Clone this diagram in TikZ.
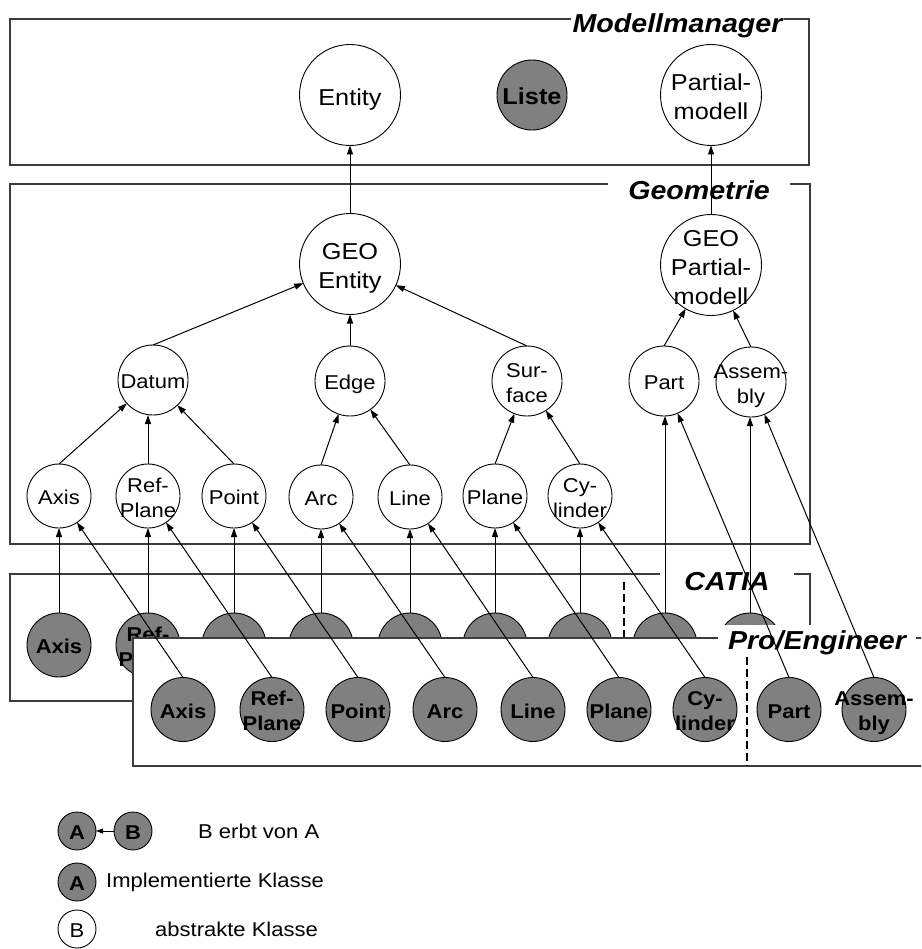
\documentclass[tikz,border=0pt]{standalone}
\usepackage{fontspec}
\setmainfont{Liberation Sans}[FakeStretch=1.1]
\usetikzlibrary{arrows.meta}
\definecolor{nodegray}{RGB}{128,128,128}
\definecolor{boxgray}{RGB}{60,60,60}
\newcommand\ctext[1]{\makebox[0pt]{\smash{\raisebox{-0.5\height}{\begin{tabular}[b]{@{}c@{}}#1\end{tabular}}}}}
\newcommand\fbig{\fontsize{23}{29}\selectfont}
\newcommand\fsm{\fontsize{20}{25}\selectfont}
\newcommand\fsmb{\fontsize{20}{25}\selectfont\bfseries}
\newcommand\fliste{\fontsize{23}{27}\selectfont\bfseries}
\newcommand\flegb{\fontsize{20}{24}\selectfont\bfseries}
\newcommand\fleg{\fontsize{20}{24}\selectfont}
\newcommand\ftitle{\fontsize{26}{30}\selectfont\bfseries\itshape}
\tikzset{
  basecirc/.style={circle, draw=black, line width=0.9pt, inner sep=0pt, outer sep=0pt},
  abst/.style={basecirc, fill=white, font=\fsm},
  impl/.style={basecirc, fill=nodegray, font=\fsmb},
  bigc/.style={minimum size=101pt, font=\fbig},
  midc/.style={minimum size=70pt},
  smlc/.style={minimum size=64pt},
  legc/.style={minimum size=38pt},
  arr/.style={-{Triangle[length=9pt,width=6pt]}, line width=1pt},
  frame/.style={draw=boxgray, line width=1.6pt},
  boxtitle/.style={fill=white, anchor=base, inner ysep=3pt, font=\ftitle},
  dashline/.style={line width=2pt, dash pattern=on 8pt off 4pt},
  legtext/.style={anchor=base west, inner sep=0pt, font=\fsm}
}
\begin{document}
\begin{tikzpicture}[x=1pt,y=-1pt]
\useasboundingbox (0,0) rectangle (921,949);
\clip (0,0) rectangle (921,949);

% frames and titles
\draw[frame] (10,19) rectangle (809,165);
\node[boxtitle, inner xsep=2pt] (tMM) at (677.5,33) {Modellmanager};
\draw[frame] (10,184) rectangle (810,544);
\node[boxtitle, inner xsep=20pt] (tGeo) at (699,200) {Geometrie};
\draw[frame, fill=white] (10,574) rectangle (810,701);
\node[boxtitle, inner xsep=24pt] (tCat) at (727,590) {CATIA};

% Modellmanager nodes
\node[abst, bigc] (mEnt) at (350,95) {\ctext{Entity}};
\node[impl, midc, font=\fliste] (mList) at (532,95) {\ctext{Liste}};
\node[abst, bigc] (mPart) at (711,95) {\ctext{Partial-\\modell}};

% Geometrie nodes
\node[abst, bigc] (gGeoE) at (350,264) {\ctext{GEO\\Entity}};
\node[abst, bigc] (gGeoP) at (711,265) {\ctext{GEO\\Partial-\\modell}};
\node[abst, midc] (gDatum) at (153,380) {\ctext{Datum}};
\node[abst, midc] (gEdge) at (350,381) {\ctext{Edge}};
\node[abst, midc] (gSurf) at (527,381) {\ctext{Sur-\\face}};
\node[abst, midc] (gPart) at (664,381) {\ctext{Part}};
\node[abst, midc] (gAsm) at (751,382) {\ctext{Assem-\\bly}};
\node[abst, smlc] (gAxis) at (59,496) {\ctext{Axis}};
\node[abst, smlc] (gRef) at (148,496) {\ctext{Ref-\\Plane}};
\node[abst, smlc] (gPoint) at (234,496) {\ctext{Point}};
\node[abst, smlc] (gArc) at (321,497) {\ctext{Arc}};
\node[abst, smlc] (gLine) at (410,497) {\ctext{Line}};
\node[abst, smlc] (gPlane) at (495,496) {\ctext{Plane}};
\node[abst, smlc] (gCyl) at (580,496) {\ctext{Cy-\\linder}};

% CATIA nodes
\node[impl, smlc] (cAxis) at (59,645) {\ctext{Axis}};
\node[impl, smlc] (cRef) at (148,645) {\ctext{Ref-\\Plane}};
\node[impl, smlc] (cPoint) at (234,645) {};
\node[impl, smlc] (cArc) at (321,645) {};
\node[impl, smlc] (cLine) at (410,645) {};
\node[impl, smlc] (cPlane) at (495,645) {};
\node[impl, smlc] (cCyl) at (580,645) {};
\node[impl, smlc] (cPart) at (665,645) {};
\node[impl, smlc] (cAsm) at (750,645) {};
\draw[dashline] (624,582) -- (624,637);

% inheritance inside Geometrie / Modellmanager
\draw[arr] (gDatum.north) -- (gGeoE);
\draw[arr] (gEdge) -- (gGeoE);
\draw[arr] (gSurf.north) -- (gGeoE);
\draw[arr] (gAxis.north) -- (gDatum);
\draw[arr] (gRef.north) -- (gRef.north |- gDatum.south);
\draw[arr] (gPoint.north) -- (gDatum);
\draw[arr] (gArc.north) -- (gEdge);
\draw[arr] (gLine.north) -- (gEdge);
\draw[arr] (gPlane.north) -- (gSurf);
\draw[arr] (gCyl.north) -- (gSurf);
\draw[arr] (gPart.north) -- (gGeoP);
\draw[arr] (gAsm.north) -- (gGeoP);
\draw[arr] (gGeoE) -- (mEnt);
\draw[arr] (gGeoP) -- (mPart);

% CATIA -> Geometrie
\draw[arr] (cAxis.north) -- (gAxis.south);
\draw[arr] (cRef.north) -- (gRef.south);
\draw[arr] (cPoint.north) -- (gPoint.south);
\draw[arr] (cArc.north) -- (gArc.south);
\draw[arr] (cLine.north) -- (gLine.south);
\draw[arr] (cPlane.north) -- (gPlane.south);
\draw[arr] (cCyl.north) -- (gCyl.south);
\draw[arr] (cPart.north) -- (cPart.north |- gPart.south);
\draw[arr] (cAsm.north) -- (cAsm.north |- gAsm.south);

% Pro/Engineer
\draw[frame, fill=white] (133,638) rectangle (960,766);
\node[boxtitle, inner xsep=10pt, inner ysep=5pt] (tPro) at (817,649) {Pro/Engineer};
\node[impl, smlc] (pAxis) at (183,709.5) {\ctext{Axis}};
\node[impl, smlc] (pRef) at (272,709.5) {\ctext{Ref-\\Plane}};
\node[impl, smlc] (pPoint) at (358,709.5) {\ctext{Point}};
\node[impl, smlc] (pArc) at (445,709.5) {\ctext{Arc}};
\node[impl, smlc] (pLine) at (533,709.5) {\ctext{Line}};
\node[impl, smlc] (pPlane) at (619,709.5) {\ctext{Plane}};
\node[impl, smlc] (pCyl) at (705,709.5) {\ctext{Cy-\\linder}};
\node[impl, smlc] (pPart) at (789,709.5) {\ctext{Part}};
\node[impl, smlc] (pAsm) at (874,709.5) {\ctext{Assem-\\bly}};
\draw[dashline] (747,657) -- (747,766);

\draw[arr] (pAxis.north) -- (gAxis);
\draw[arr] (pRef.north) -- (gRef);
\draw[arr] (pPoint.north) -- (gPoint);
\draw[arr] (pArc.north) -- (gArc);
\draw[arr] (pLine.north) -- (gLine);
\draw[arr] (pPlane.north) -- (gPlane);
\draw[arr] (pCyl.north) -- (gCyl);
\draw[arr] (pPart.north) -- (gPart);
\draw[arr] (pAsm.north) -- (gAsm);

% legend
\node[impl, legc, font=\flegb] (lA1) at (77,831) {\ctext{A}};
\node[impl, legc, font=\flegb] (lB1) at (133,831) {\ctext{B}};
\draw[-{Triangle[length=7pt,width=5pt]}, line width=1pt] (lB1) -- (lA1);
\node[legtext] (lT1) at (198,838) {B erbt von A};
\node[impl, legc, font=\flegb] (lA2) at (77,882) {\ctext{A}};
\node[legtext] (lT2) at (106,887) {Implementierte Klasse};
\node[abst, legc, font=\fleg] (lB2) at (77,929) {\ctext{B}};
\node[legtext] (lT3) at (155,936) {abstrakte Klasse};
\end{tikzpicture}
\end{document}
